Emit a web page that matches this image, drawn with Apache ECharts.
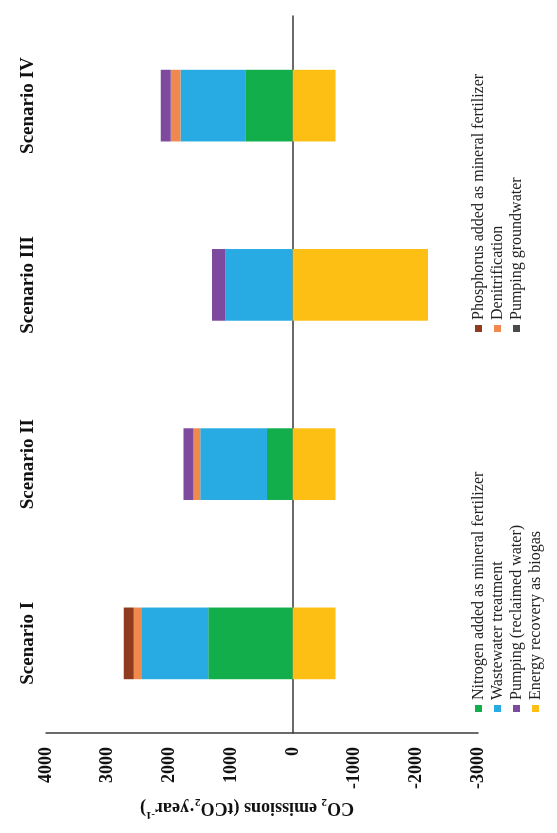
<!DOCTYPE html>
<html>
<head>
<meta charset="utf-8">
<title>CO2 emissions by scenario</title>
<script src="https://cdn.jsdelivr.net/npm/echarts@6/dist/echarts.min.js"></script>
<style>
  html, body { margin: 0; padding: 0; width: 557px; height: 833px; overflow: hidden; background: #ffffff; }
  /* The figure is laid out landscape and turned a quarter-turn onto the portrait page */
  #chart {
    position: absolute; left: 0; top: 0;
    width: 833px; height: 557px;
    transform-origin: 0 0;
    transform: translate(0, 833px) rotate(-90deg);
  }
</style>
</head>
<body>
<div id="chart"></div>
<script>
// Scenarios on the category axis
const scenarios = ['Scenario I', 'Scenario II', 'Scenario III', 'Scenario IV'];

// Emission components (tCO2/year), one value per scenario
const nitrogenFertilizer   = [1370, 420, 0, 770];
const wastewaterTreatment  = [1075, 1080, 1090, 1050];
const denitrification      = [135, 108, 0, 160];
const phosphorusFertilizer = [160, 0, 0, 0];
const pumpingReclaimed     = [0, 162, 220, 162];
const pumpingGroundwater   = [0, 0, 0, 0];
const energyRecovery       = [-690, -690, -2190, -690];

// Value axis range and ticks
const axisMin = -3000;
const axisMax = 4000;
const axisStep = 1000;

// Legend groups (two columns)
const legendLeftColumn  = ['Nitrogen added as mineral fertilizer', 'Wastewater treatment',
                           'Pumping (reclaimed water)', 'Energy recovery as biogas'];
const legendRightColumn = ['Phosphorus added as mineral fertilizer', 'Denitrification', 'Pumping groundwater'];

const serif = '"Liberation Serif", "Times New Roman", serif';

const seriesDefs = [
  { name: 'Nitrogen added as mineral fertilizer',   data: nitrogenFertilizer,   color: '#12ae4b' },
  { name: 'Wastewater treatment',                   data: wastewaterTreatment,  color: '#28abe3' },
  { name: 'Denitrification',                        data: denitrification,      color: '#f0894e' },
  { name: 'Phosphorus added as mineral fertilizer', data: phosphorusFertilizer, color: '#8f3b1f' },
  { name: 'Pumping (reclaimed water)',              data: pumpingReclaimed,     color: '#7e4a9d' },
  { name: 'Pumping groundwater',                    data: pumpingGroundwater,   color: '#4a4a4a' },
  { name: 'Energy recovery as biogas',              data: energyRecovery,       color: '#fdbf14' }
];

function legendColumn(left, names) {
  return {
    type: 'plain', orient: 'vertical', left: left, top: 470, align: 'left',
    itemWidth: 7, itemHeight: 7, itemGap: 2, icon: 'rect',
    padding: 0,
    textStyle: { fontFamily: serif, fontSize: 16, color: '#222', lineHeight: 17 },
    data: names
  };
}

const chart = echarts.init(document.getElementById('chart'), null, { renderer: 'canvas' });

chart.setOption({
  animation: false,
  backgroundColor: '#ffffff',
  grid: { left: 100, right: 16, top: 46, bottom: 79, containLabel: false },
  legend: [legendColumn(121, legendLeftColumn), legendColumn(501, legendRightColumn)],
  xAxis: [
    {
      type: 'category', data: scenarios,
      axisLine: { onZero: true, lineStyle: { color: '#3a3a3a', width: 1.5 } },
      axisTick: { show: false },
      axisLabel: { show: false },
      splitLine: { show: false }
    },
    {
      type: 'category', data: scenarios, position: 'top',
      axisLine: { show: false },
      axisTick: { show: false },
      axisLabel: { fontFamily: serif, fontSize: 19, fontWeight: 'bold', color: '#111', margin: 8 },
      splitLine: { show: false }
    }
  ],
  yAxis: {
    type: 'value', min: axisMin, max: axisMax, interval: axisStep,
    axisLine: { show: true, lineStyle: { color: '#3a3a3a', width: 1.5 } },
    axisTick: { show: false },
    splitLine: { show: false },
    axisLabel: {
      fontFamily: serif, fontSize: 18, fontWeight: 'bold', color: '#111', margin: 14,
      formatter: v => String(v)
    }
  },
  graphic: [
    {
      type: 'text', x: 25, y: 247, rotation: Math.PI / 2,
      style: {
        text: 'CO{sub|2} emissions (tCO{sub|2}·year{sup|-1})',
        align: 'center', verticalAlign: 'middle',
        fontFamily: serif, fontSize: 18, fontWeight: 'bold', fill: '#111',
        lineHeight: 24,
        rich: {
          sub: { fontFamily: serif, fontSize: 11, fontWeight: 'bold', verticalAlign: 'bottom', lineHeight: 24, fill: '#111' },
          sup: { fontFamily: serif, fontSize: 11, fontWeight: 'bold', verticalAlign: 'top', lineHeight: 24, fill: '#111' }
        }
      }
    }
  ],
  series: seriesDefs.map(s => ({
    name: s.name, type: 'bar', stack: 'total',
    xAxisIndex: 0, barWidth: '40%',
    itemStyle: { color: s.color },
    emphasis: { disabled: true },
    data: s.data
  }))
});
</script>
</body>
</html>
